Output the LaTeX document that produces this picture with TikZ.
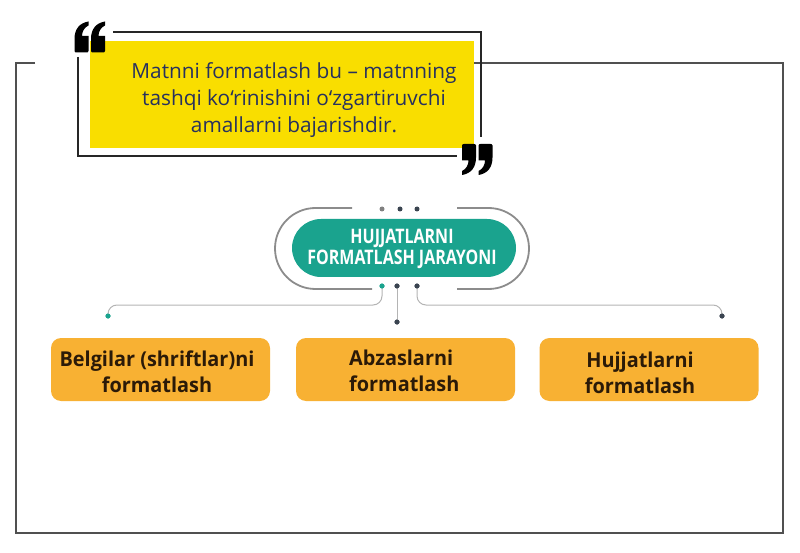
\documentclass[tikz,border=0pt]{standalone}
\usepackage{fontspec}
\setmainfont{Open Sans}
\newfontfamily\condfont[FakeStretch=0.8]{Open Sans}
\newfontfamily\boxfont[FakeStretch=0.97]{Open Sans}
\definecolor{quoteyellow}{HTML}{F9DE00}
\definecolor{quotetext}{HTML}{27315E}
\definecolor{tealc}{HTML}{1AA38E}
\definecolor{orangec}{HTML}{F8B133}
\definecolor{boxtext}{HTML}{2B1A08}
\definecolor{framegray}{HTML}{505050}
\definecolor{bracketgray}{HTML}{8C8C8C}
\definecolor{linkgray}{HTML}{B4B4B4}
\definecolor{dotdark}{HTML}{3A4450}
\tikzset{
  qmark/.pic={\fill[black] (7,-15.5) -- (7,-11.5) .. controls (2.5,-9.5) and (0.5,-5) .. (0.5,-1) -- (7,-1) -- (7,14) .. controls (7,15.2) and (6,15.5) .. (5,15.5) -- (-5,15.5) .. controls (-6,15.5) and (-7,15.2) .. (-7,14) -- (-7,2) .. controls (-7,-8) and (-2,-14) .. (7,-15.5) -- cycle;},
  dotnode/.style={circle, fill=#1, inner sep=0pt, minimum size=5pt},
  link/.style={draw=linkgray, line width=1pt, rounded corners=9pt},
  subbox/.style={fill=orangec, rounded corners=10pt, minimum width=219pt, minimum height=63pt, inner sep=0pt},
  subtext/.style={text=boxtext, font=\boxfont\bfseries\fontsize{20.5}{25.5}\selectfont, inner sep=0pt},
}
\begin{document}
\begin{tikzpicture}[x=1pt,y=-1pt]
\useasboundingbox (0,0) rectangle (800,553);
% outer frame
\draw[framegray, line width=1.3pt] (35,63) -- (16,63) -- (16,533) -- (783,533) -- (783,63) -- (474,63);
% quote outline
\draw[black!85, line width=1.2pt] (113,32) -- (481,32) -- (481,137);
\draw[black!85, line width=1.2pt] (78,57) -- (78,156) -- (457,156);
% yellow quote box
\node[fill=quoteyellow, minimum width=384pt, minimum height=107pt, inner sep=0pt] (quotebox) at (282,94.5) {};
\node[text=quotetext, align=center, inner sep=0pt, font=\fontsize{20.8}{27}\selectfont] (quotetxt) at (294,100)
  {Matnni formatlash bu – matnning\\tashqi ko‘rinishini o‘zgartiruvchi\\amallarni bajarishdir.};
% quote marks
\pic at (81.5,37) {qmark};
\pic at (98,37) {qmark};
\pic[rotate=180] at (469,159.5) {qmark};
\pic[rotate=180] at (485.5,159.5) {qmark};
% bracket around title
\draw[bracketgray, line width=1.8pt] (352,208) -- (315.5,208) arc[start angle=-90, end angle=-270, radius=40.5] -- (372,289);
\draw[bracketgray, line width=1.8pt] (457,208) -- (488.5,208) arc[start angle=-90, end angle=90, radius=40.5] -- (457,289);
% title
\node[fill=tealc, rounded corners=29pt, minimum width=224pt, minimum height=58pt, inner sep=0pt] (title) at (404,248) {};
\node[text=white, align=center, inner sep=0pt, anchor=base, font=\condfont\bfseries\fontsize{20}{21}\selectfont] (titletxt) at (402,265)
  {HUJJATLARNI\\FORMATLASH JARAYONI};
% dots
\node[dotnode=gray] (td1) at (382,209) {};
\node[dotnode=dotdark] (td2) at (400,209) {};
\node[dotnode=dotdark] (td3) at (417,209) {};
\node[dotnode=tealc] (bd1) at (382,286) {};
\node[dotnode=dotdark] (bd2) at (397,286) {};
\node[dotnode=dotdark] (bd3) at (417,286) {};
\node[dotnode=tealc] (ld) at (108,316) {};
\node[dotnode=dotdark] (md) at (397,322) {};
\node[dotnode=dotdark] (rd) at (722,316) {};
% connectors
\draw[link] (bd1.center) -- (bd1.center |- 0,305) -- (ld.center |- 0,305) -- (ld.center);
\draw[link] (bd2.center) -- (md.center);
\draw[link] (bd3.center) -- (bd3.center |- 0,305) -- (rd.center |- 0,305) -- (rd.center);
% redraw dots on top
\foreach \d/\c in {bd1/tealc, bd2/dotdark, bd3/dotdark, ld/tealc, md/dotdark, rd/dotdark}
  \fill[\c] (\d) circle (2.5pt);
% sub boxes
\node[subbox] (b1) at (160.5,369.5) {};
\node[subbox] (b2) at (405.5,369.5) {};
\node[subbox] (b3) at (649,369.5) {};
\node[subtext, align=center, anchor=base] (t1) at (157,392) {Belgilar (shriftlar)ni\\formatlash};
\node[subtext, align=left, anchor=base west] (t2) at (349,391) {Abzaslarni\\formatlash};
\node[subtext, align=center, anchor=base] (t3) at (640,393) {Hujjatlarni\\formatlash};
\end{tikzpicture}
\end{document}
